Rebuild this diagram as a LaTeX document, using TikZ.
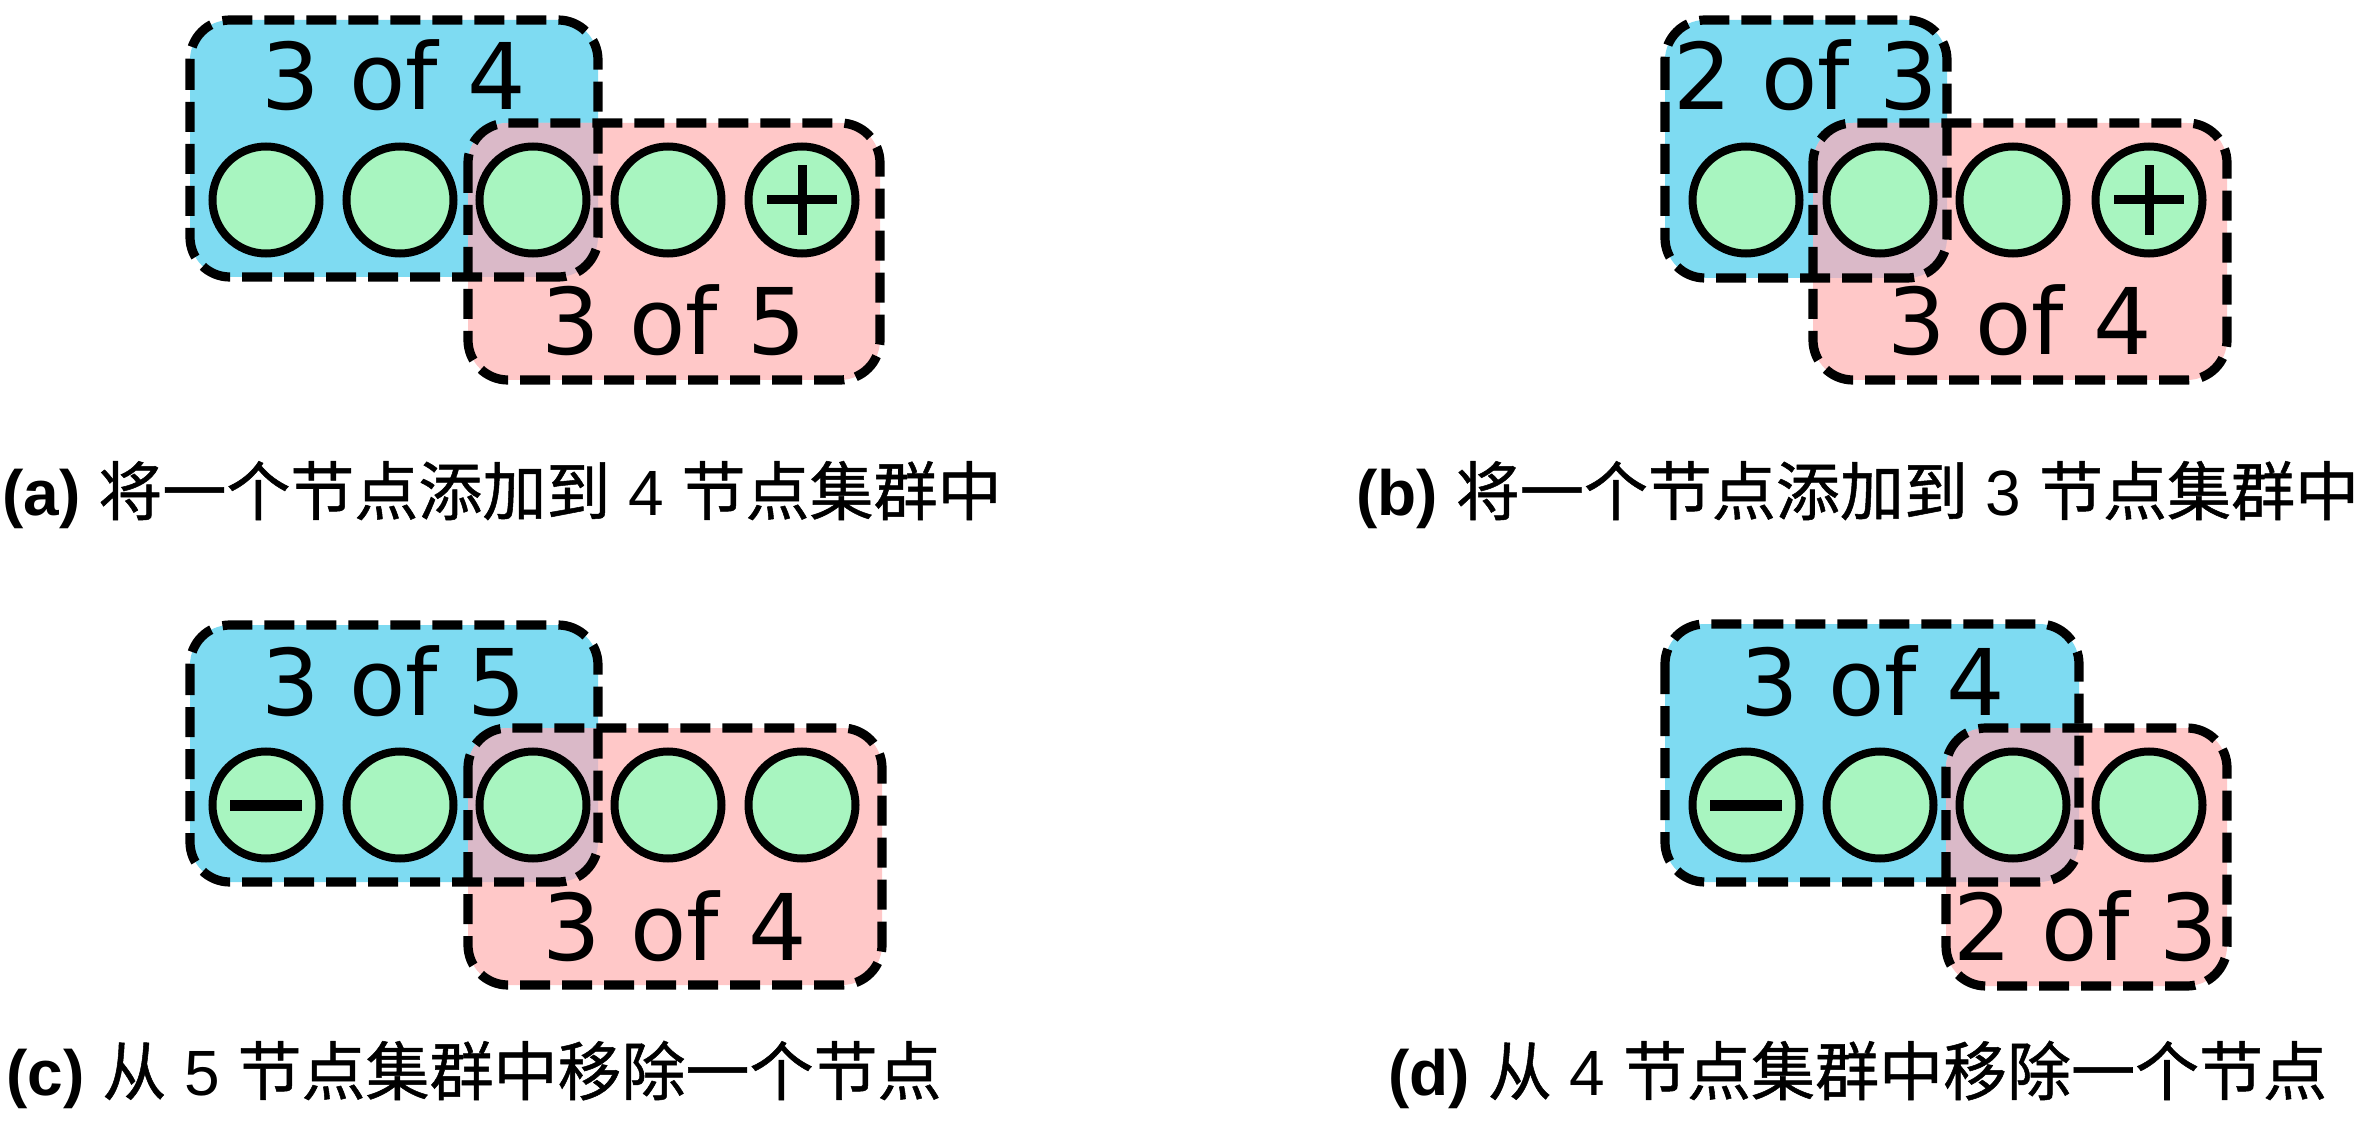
\documentclass[tikz,border=0pt]{standalone}
\usepackage{fontspec}
\newfontfamily\dejavuf{DejaVu Sans}
\newfontfamily\arialf{Liberation Sans}
\newfontfamily\cjkf[FakeBold=0.8]{Noto Sans CJK SC}
\definecolor{bluefill}{RGB}{126,219,242}
\definecolor{pinkfill}{RGB}{255,200,200}
\definecolor{mixfill}{RGB}{218,185,200}
\definecolor{nodegreen}{RGB}{168,245,192}
\newcommand\grpboxes[8]{%
  \fill[bluefill, rounded corners=20pt] (#1,#2) rectangle (#3,#4);
  \fill[pinkfill, rounded corners=20pt] (#5,#6) rectangle (#7,#8);
  \begin{scope}
    \clip[rounded corners=20pt] (#1,#2) rectangle (#3,#4);
    \fill[mixfill, rounded corners=20pt] (#5,#6) rectangle (#7,#8);
  \end{scope}
  \draw[grp] (#1,#2) rectangle (#3,#4);
  \draw[grp] (#5,#6) rectangle (#7,#8);}
\begin{document}
\begin{tikzpicture}[x=0.5pt,y=-0.5pt,
  grp/.style={draw=black, line width=4.6pt, dash pattern=on 15pt off 6pt, rounded corners=20pt},
  member/.style={circle, draw=black, fill=nodegreen, line width=4pt, minimum size=53.5pt, inner sep=0pt, outer sep=0pt},
  grplabel/.style={font=\dejavuf\fontsize{46}{50}\selectfont, anchor=base, inner sep=0pt},
  captext/.style={font=\arialf\fontsize{32}{36}\selectfont, anchor=base west, inner sep=0pt},
  plusbar/.style={line width=4.5pt},
  minusbar/.style={line width=5.5pt}]
\useasboundingbox (0,0) rectangle (2363,1123);

% ---------- (a)
\grpboxes{190}{20}{598}{277}{468}{123}{880}{380}
\node[member] (a1) at (266,200) {};
\node[member] (a2) at (400,200) {};
\node[member] (a3) at (533,200) {};
\node[member] (a4) at (668,200) {};
\node[member] (a5) at (802,200) {};
\draw[plusbar] ([xshift=-17.5pt]a5.center) -- ([xshift=17.5pt]a5.center);
\draw[plusbar] ([yshift=-17.5pt]a5.center) -- ([yshift=17.5pt]a5.center);
\node[grplabel] (la1) at (394,110) {3 of 4};
\node[grplabel] (la2) at (674,355) {3 of 5};
\node[captext] (capa) at (2,515) {\textbf{(a)} {\cjkf 将一个节点添加到} 4 {\cjkf 节点集群中}};

% ---------- (b)
\grpboxes{1665}{20}{1947}{278}{1813}{123}{2227}{380}
\node[member] (b1) at (1746,200) {};
\node[member] (b2) at (1880,200) {};
\node[member] (b3) at (2013,200) {};
\node[member] (b4) at (2149,200) {};
\draw[plusbar] ([xshift=-17.5pt]b4.center) -- ([xshift=17.5pt]b4.center);
\draw[plusbar] ([yshift=-17.5pt]b4.center) -- ([yshift=17.5pt]b4.center);
\node[grplabel] (lb1) at (1806,110) {2 of 3};
\node[grplabel] (lb2) at (2020,355) {3 of 4};
\node[captext] (capb) at (1356,515) {\textbf{(b)} {\cjkf 将一个节点添加到} 3 {\cjkf 节点集群中}};

% ---------- (c)
\grpboxes{190}{625}{598}{882}{468}{728}{882}{985}
\node[member] (c1) at (266,805) {};
\node[member] (c2) at (400,805) {};
\node[member] (c3) at (533,805) {};
\node[member] (c4) at (668,805) {};
\node[member] (c5) at (802,805) {};
\draw[minusbar] ([xshift=-18pt]c1.center) -- ([xshift=18pt]c1.center);
\node[grplabel] (lc1) at (394,715) {3 of 5};
\node[grplabel] (lc2) at (675,960) {3 of 4};
\node[captext] (capc) at (6,1095) {\textbf{(c)} {\cjkf 从} 5 {\cjkf 节点集群中移除一个节点}};

% ---------- (d)
\grpboxes{1665}{624}{2079}{882}{1946}{728}{2227}{986}
\node[member] (d1) at (1746,805) {};
\node[member] (d2) at (1880,805) {};
\node[member] (d3) at (2013,805) {};
\node[member] (d4) at (2149,805) {};
\draw[minusbar] ([xshift=-18pt]d1.center) -- ([xshift=18pt]d1.center);
\node[grplabel] (ld1) at (1873,715) {3 of 4};
\node[grplabel] (ld2) at (2086,960) {2 of 3};
\node[captext] (capd) at (1388,1095) {\textbf{(d)} {\cjkf 从} 4 {\cjkf 节点集群中移除一个节点}};
\end{tikzpicture}
\end{document}
